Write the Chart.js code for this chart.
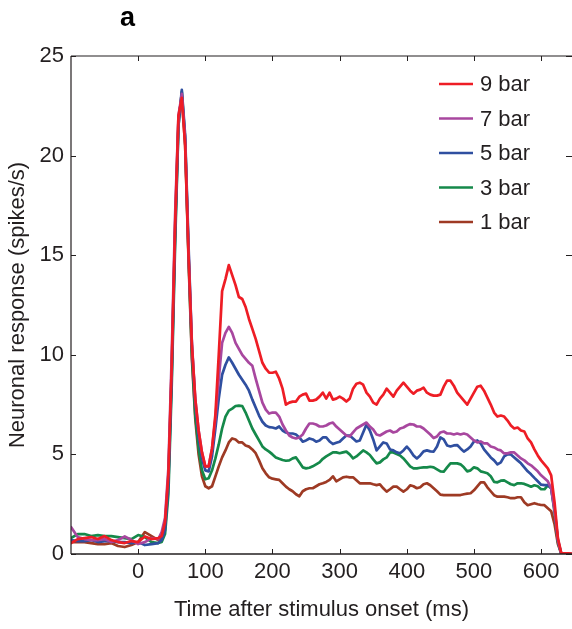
<!DOCTYPE html>
<html><head><meta charset="utf-8">
<script src="https://cdn.jsdelivr.net/npm/chart.js@4.4.1/dist/chart.umd.min.js"></script>
<style>html,body{margin:0;padding:0;background:#fff;overflow:hidden}#wrap{position:relative;width:572px;height:629px}</style>
</head><body><div id="wrap"><canvas id="c" width="572" height="629"></canvas></div>
<script>
const times = [-100,-90,-80,-70,-60,-50,-40,-30,-20,-10,0,10,20,30,
35,40,45,50,55,60,65,70,75,80,85,90,95,100,
105,110,115,120,125,130,135,140,145,150,155,160,165,170,175,180,185,190,195,200,
205,210,215,220,225,230,235,240,245,250,255,260,265,270,275,280,285,290,295,300,
305,310,315,320,325,330,335,340,345,350,355,360,365,370,375,380,385,390,395,400,
405,410,415,420,425,430,435,440,445,450,455,460,465,470,475,480,485,490,495,500,
505,510,515,520,525,530,535,540,545,550,555,560,565,570,575,580,585,590,595,600,
605,610,615,620,625,630,640,645];

const bar9 = [0.55,0.75,0.8,0.85,0.75,0.9,0.7,0.6,0.55,0.65,0.6,0.88,0.75,0.8,
0.9,1.6,4.0,9.5,16.5,22.0,22.9,20.5,15.0,10.5,7.8,6.2,5.1,4.4,
4.4,5.3,7.0,10.0,13.2,13.8,14.5,14.0,13.5,12.9,12.8,12.4,11.8,11.3,10.8,10.2,9.6,9.3,9.1,9.1,
9.15,8.8,8.3,7.5,7.6,7.65,7.65,7.9,8.0,8.05,7.7,7.7,7.75,7.9,8.1,7.8,8.1,7.75,7.8,7.9,
7.8,7.65,7.8,8.3,8.55,8.6,8.5,8.1,7.9,7.6,7.5,7.8,8.0,8.3,8.1,7.9,8.2,8.4,8.6,8.4,
8.2,8.05,8.2,8.25,8.35,8.1,8.0,7.95,7.95,8.0,8.4,8.7,8.7,8.45,8.1,7.9,7.7,7.5,7.8,8.1,
8.4,8.45,8.2,7.85,7.5,7.1,6.9,6.95,6.9,6.7,6.45,6.3,6.35,6.2,6.15,5.8,5.6,5.25,4.95,4.7,
4.5,4.3,3.95,2.6,0.8,0.05,0.03,0.02];

const bar7 = [1.35,0.85,0.75,0.7,0.7,0.75,0.6,0.7,0.88,0.7,0.5,0.6,0.8,0.75,
1.1,1.8,4.3,10.0,17.0,22.0,23.1,20.8,15.2,10.6,7.8,6.2,5.1,4.4,
4.4,5.3,6.8,8.8,10.6,11.1,11.4,11.1,10.6,10.3,10.0,9.8,9.6,9.45,8.8,8.2,7.6,7.25,7.05,7.1,
7.1,6.9,6.5,6.2,5.95,5.85,5.8,5.85,6.0,6.3,6.55,6.55,6.5,6.4,6.4,6.45,6.55,6.6,6.4,6.25,
6.1,5.95,5.9,6.1,6.3,6.4,6.5,6.6,6.4,6.25,6.0,5.95,6.05,6.15,6.2,6.1,6.15,6.3,6.35,6.45,
6.52,6.5,6.4,6.4,6.3,6.15,6.0,5.82,5.9,6.1,6.15,6.05,6.05,6.0,6.05,6.0,6.05,6.0,5.85,5.7,
5.6,5.65,5.55,5.55,5.4,5.35,5.25,5.2,5.05,5.05,5.1,5.1,4.95,4.8,4.7,4.55,4.45,4.3,4.15,3.95,
3.8,3.65,3.3,2.2,0.7,0.02,0,0];

const bar5 = [0.7,0.65,0.65,0.7,0.6,0.65,0.65,0.6,0.6,0.55,0.6,0.45,0.5,0.55,
0.7,1.2,3.5,9.0,16.0,21.5,23.3,21.0,15.5,10.5,7.6,5.9,4.8,4.2,
4.15,4.9,6.3,7.8,9.0,9.5,9.87,9.6,9.3,9.0,8.75,8.5,8.2,7.75,7.35,6.95,6.64,6.45,6.37,6.35,
6.3,6.4,6.2,6.1,6.05,6.05,6.0,5.85,5.64,5.7,5.8,5.75,5.64,5.7,5.85,5.85,5.65,5.52,5.58,5.64,
5.8,5.95,5.95,5.8,5.65,5.7,6.1,6.5,6.2,5.75,5.2,5.4,5.6,5.55,5.25,5.2,5.1,5.06,5.2,5.39,
5.2,4.95,4.8,4.95,5.15,5.2,5.15,5.14,5.4,5.85,5.75,5.45,5.4,5.45,5.47,5.3,5.14,5.25,5.4,5.65,
5.7,5.55,5.25,5.05,4.85,4.7,4.5,4.6,4.9,5.0,5.0,4.85,4.7,4.55,4.35,4.15,4.0,3.82,3.65,3.48,
3.46,3.46,3.3,2.3,0.7,0.02,0,0];

const bar3 = [0.8,1.0,1.0,0.9,0.95,0.9,0.9,0.85,0.8,0.75,0.95,0.85,0.6,0.55,
0.6,1.0,3.0,8.5,15.5,21.5,23.2,20.8,15.0,10.0,7.0,5.3,4.2,3.75,
3.8,4.2,4.8,5.5,6.3,6.9,7.2,7.3,7.43,7.45,7.43,7.1,6.7,6.3,6.0,5.7,5.4,5.25,5.14,5.0,
4.85,4.78,4.72,4.68,4.7,4.8,4.85,4.6,4.35,4.3,4.33,4.4,4.5,4.6,4.78,4.9,5.0,5.1,5.1,5.06,
5.1,5.14,5.0,4.8,4.9,5.05,5.2,5.1,4.97,4.75,4.55,4.6,4.75,4.85,5.1,5.1,5.02,4.95,4.8,4.6,
4.4,4.3,4.3,4.33,4.35,4.35,4.38,4.35,4.25,4.15,4.13,4.35,4.55,4.55,4.55,4.5,4.35,4.15,4.2,4.35,
4.3,4.15,4.1,4.05,3.9,3.62,3.6,3.68,3.7,3.6,3.5,3.46,3.55,3.55,3.52,3.45,3.38,3.45,3.4,3.25,
3.25,3.45,3.3,2.1,0.6,0.02,0,0];

const bar1 = [0.6,0.6,0.6,0.55,0.5,0.5,0.55,0.4,0.35,0.45,0.6,1.1,0.9,0.7,
0.8,1.4,3.8,9.3,16.3,21.8,23.0,20.5,14.8,9.8,6.8,5.0,3.9,3.4,
3.3,3.4,3.9,4.4,4.85,5.2,5.6,5.8,5.75,5.6,5.6,5.45,5.39,5.25,5.06,4.7,4.3,4.05,3.85,3.78,
3.75,3.72,3.55,3.38,3.25,3.15,3.0,2.9,3.15,3.25,3.3,3.3,3.4,3.5,3.55,3.62,3.72,3.9,3.65,3.75,
3.85,3.88,3.85,3.85,3.7,3.55,3.55,3.55,3.55,3.5,3.46,3.5,3.3,3.13,3.25,3.38,3.38,3.25,3.13,3.25,
3.45,3.4,3.3,3.35,3.5,3.55,3.45,3.3,3.15,2.98,2.96,2.96,2.96,2.96,2.96,2.96,3.0,3.03,3.05,3.2,
3.4,3.6,3.6,3.35,3.15,2.95,2.88,2.88,2.88,2.85,2.8,2.8,2.85,2.85,2.6,2.45,2.5,2.55,2.5,2.46,
2.45,2.3,2.15,1.5,0.5,0.02,0,0];

const seriesNames = ['9 bar','7 bar','5 bar','3 bar','1 bar'];
const seriesValues = [bar9, bar7, bar5, bar3, bar1];
const seriesColors = ['#ee1d25','#a8479f','#2f4fa0','#15894a','#9e3a24'];
const xTicks = [0,100,200,300,400,500,600];
const yTicks = [0,5,10,15,20,25];
const xTitle = 'Time after stimulus onset (ms)';
const yTitle = 'Neuronal response (spikes/s)';
const panelLabel = 'a';

const FONT = '"Liberation Sans", Arial, Helvetica, sans-serif';
const INK = '#231f20';

const datasets = seriesNames.map((name, i) => ({
  label: name,
  data: times.map((t, k) => ({x: t, y: seriesValues[i][k]})),
  borderColor: seriesColors[i],
  backgroundColor: seriesColors[i],
  borderWidth: 2.7,
  pointRadius: 0,
  tension: 0,
  fill: false,
  borderJoinStyle: 'round',
  borderCapStyle: 'round'
}));

const framePlugin = {
  id: 'frame',
  afterDatasetsDraw(chart) {
    const {ctx, chartArea: a, scales: {x, y}} = chart;
    ctx.save();
    ctx.strokeStyle = INK;
    ctx.lineWidth = 1.2;
    ctx.beginPath();
    ctx.moveTo(a.left, a.top); ctx.lineTo(a.left, a.bottom);
    ctx.moveTo(a.left, a.top); ctx.lineTo(a.right + 2, a.top);
    ctx.stroke();
    ctx.lineWidth = 1.6;
    ctx.beginPath();
    ctx.moveTo(a.left, a.bottom); ctx.lineTo(a.right + 2, a.bottom);
    ctx.stroke();
    ctx.lineWidth = 1;
    const tl = 5;
    ctx.beginPath();
    xTicks.forEach(v => {
      const px = Math.round(x.getPixelForValue(v)) + 0.5;
      ctx.moveTo(px, a.bottom); ctx.lineTo(px, a.bottom - tl);
      ctx.moveTo(px, a.top); ctx.lineTo(px, a.top + tl);
    });
    yTicks.forEach(v => {
      const py = Math.round(y.getPixelForValue(v)) + 0.5;
      ctx.moveTo(a.left, py); ctx.lineTo(a.left + tl, py);
      ctx.moveTo(a.right + 1, py); ctx.lineTo(a.right - tl - 1, py);
    });
    ctx.stroke();

    // legend
    const lx0 = a.right - 133, lx1 = a.right - 99, tx = a.right - 92;
    const ly0 = a.top + 28, dy = 34.5;
    ctx.font = '22px ' + FONT;
    ctx.textBaseline = 'middle';
    ctx.textAlign = 'left';
    chart.data.datasets.forEach((ds, i) => {
      const yy = ly0 + i * dy;
      ctx.strokeStyle = ds.borderColor;
      ctx.lineWidth = 2.6;
      ctx.beginPath(); ctx.moveTo(lx0, yy); ctx.lineTo(lx1, yy); ctx.stroke();
      ctx.fillStyle = INK;
      ctx.fillText(ds.label, tx, yy + 1);
    });

    // panel label
    ctx.font = 'bold 27px ' + FONT;
    ctx.textAlign = 'center';
    ctx.textBaseline = 'alphabetic';
    ctx.fillStyle = '#000';
    ctx.fillText(panelLabel, 127.5, 26);
    ctx.restore();
  }
};

new Chart(document.getElementById('c'), {
  type: 'line',
  data: {datasets},
  options: {
    responsive: false,
    animation: false,
    devicePixelRatio: 1,
    layout: {padding: {top: 56, left: 0, right: 0, bottom: 0}},
    plugins: {legend: {display: false}, tooltip: {enabled: false}, title: {display: false}},
    scales: {
      x: {
        type: 'linear', min: -100, max: 646,
        afterBuildTicks: s => { s.ticks = xTicks.map(v => ({value: v})); },
        afterFit: s => { s.height = 75; },
        grid: {display: false, drawTicks: false},
        border: {display: false},
        ticks: {font: {size: 22, family: FONT}, color: INK, padding: 5, maxRotation: 0, autoSkip: false},
        title: {display: true, text: xTitle, font: {size: 22, family: FONT}, color: INK, padding: {top: 0, bottom: 6}}
      },
      y: {
        type: 'linear', min: 0, max: 25,
        afterBuildTicks: s => { s.ticks = yTicks.map(v => ({value: v})); },
        afterFit: s => { s.width = 71; },
        grid: {display: false, drawTicks: false},
        border: {display: false},
        ticks: {font: {size: 22, family: FONT}, color: INK, padding: 7},
        title: {display: true, text: yTitle, font: {size: 22, family: FONT}, color: INK, padding: {top: 5, bottom: 0}}
      }
    }
  },
  plugins: [framePlugin]
});
</script>
</body></html>
